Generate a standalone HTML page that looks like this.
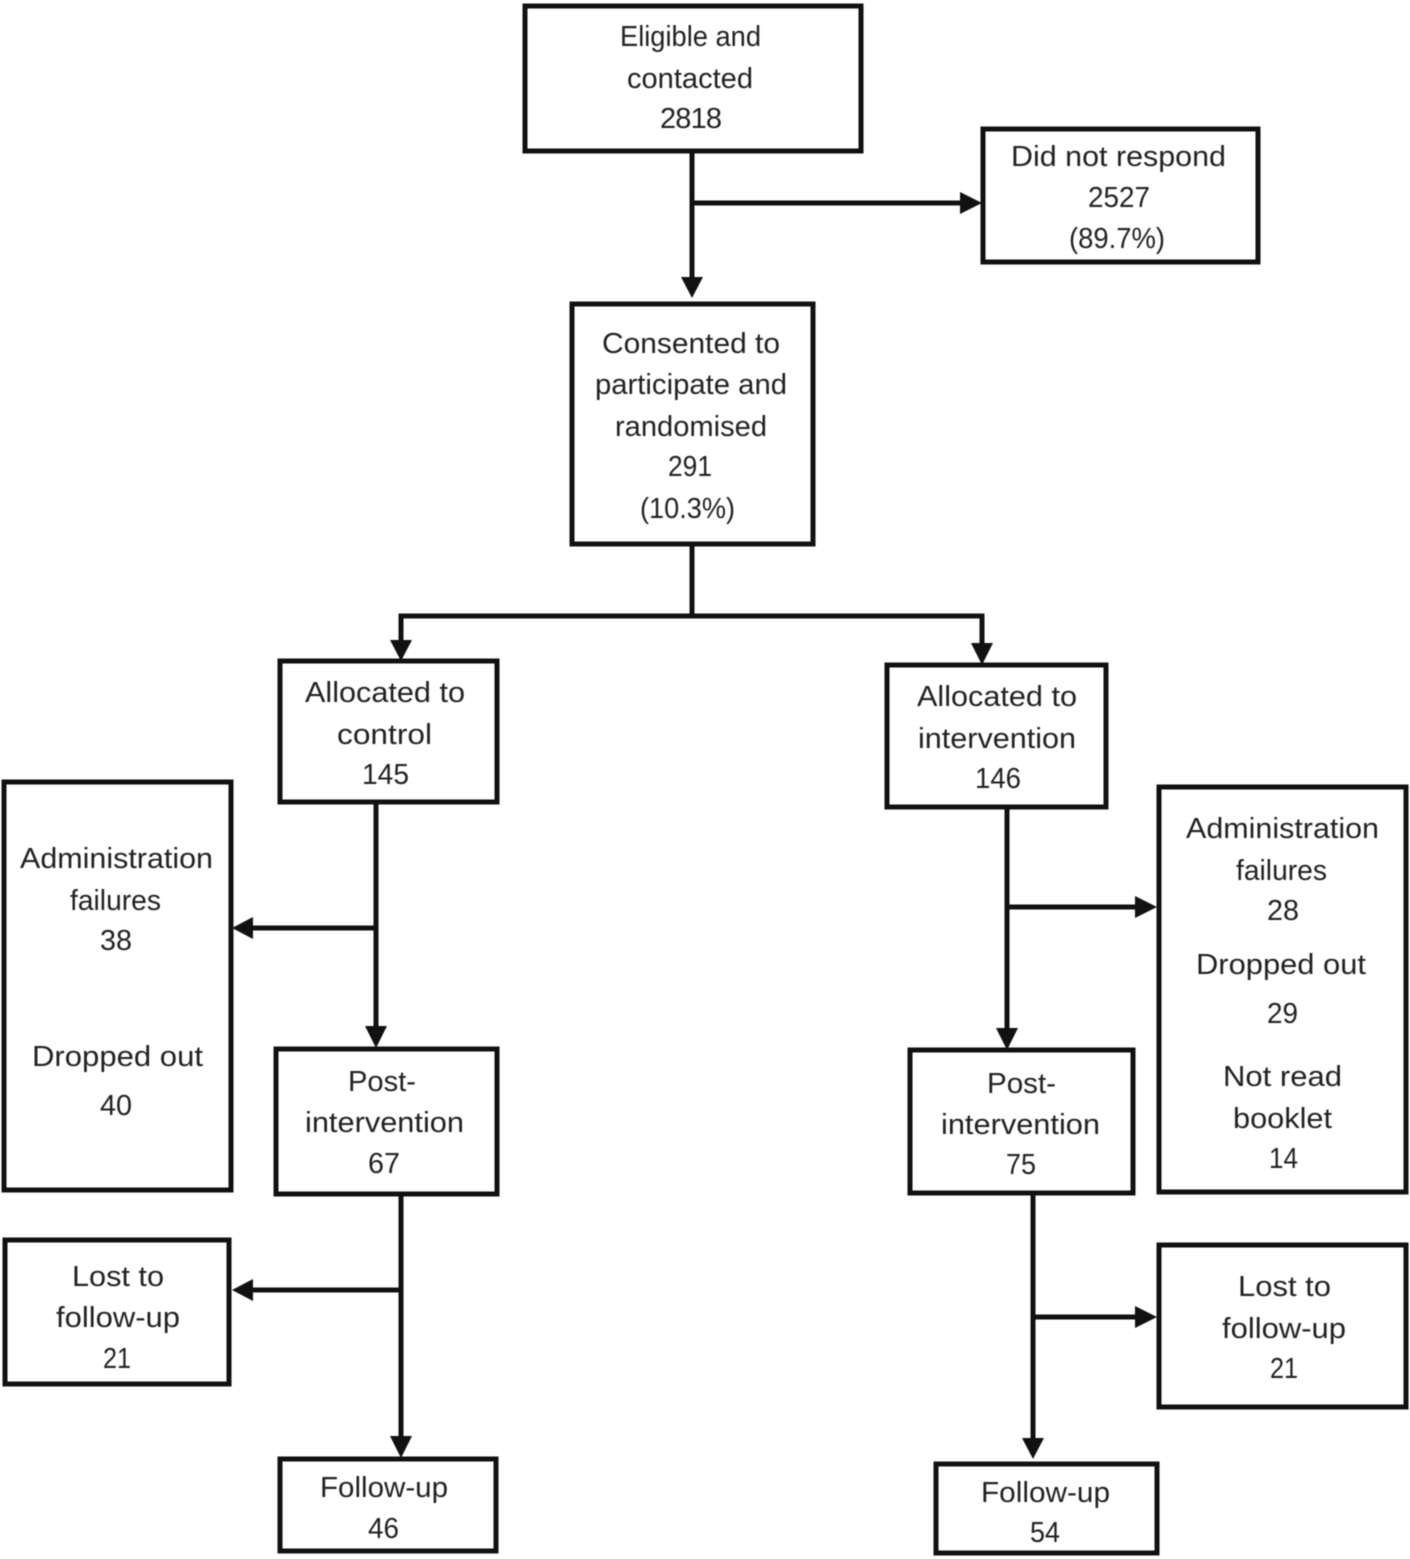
<!DOCTYPE html>
<html><head><meta charset="utf-8"><style>
html,body{margin:0;padding:0;background:#fff}
svg{display:block;filter:blur(.45px)}
text{font-family:"Liberation Sans",sans-serif;font-size:29px;fill:#222;text-anchor:middle}
rect{fill:#fff;stroke:#111;stroke-width:5}
path.l{fill:none;stroke:#111;stroke-width:5}
path.a{fill:#111;stroke:none}
</style></head><body>
<svg width="1410" height="1559" viewBox="0 0 1410 1559" xmlns="http://www.w3.org/2000/svg">
<rect x="525" y="6" width="336" height="145"/>
<rect x="983" y="129" width="275" height="133"/>
<rect x="572" y="304" width="241" height="240"/>
<rect x="280" y="661" width="217" height="141"/>
<rect x="887" y="665" width="219" height="142"/>
<rect x="4" y="782" width="227" height="408"/>
<rect x="1159" y="787" width="247" height="405"/>
<rect x="276" y="1049" width="221" height="145"/>
<rect x="910" y="1050" width="223" height="143"/>
<rect x="5" y="1240" width="224" height="144"/>
<rect x="1159" y="1245" width="247" height="162"/>
<rect x="280" y="1459" width="216" height="92"/>
<rect x="936" y="1464" width="221" height="89"/>

<path class="l" d="M692 151V280M692 203H962M692 544V616M401 642V616H982V645M376 802V1028M376 928H250M1007 807V1030M1007 907H1137M401 1194V1438M401 1290H250M1033 1193V1440M1033 1317H1137"/>
<path class="a" d="M681 277H703L692 298ZM960 192V214L982 203ZM390 640H412L401 661ZM971 643H993L982 665ZM365 1026H387L376 1048ZM253 917V939L232 928ZM996 1028H1018L1007 1050ZM1135 896V918L1157 907ZM390 1436H412L401 1458ZM253 1279V1301L232 1290ZM1022 1438H1044L1033 1459ZM1135 1306V1328L1157 1317Z"/>

<g lengthAdjust="spacingAndGlyphs">
<text x="690.5" y="46" textLength="141" lengthAdjust="spacingAndGlyphs">Eligible and</text><text x="690" y="88" textLength="126" lengthAdjust="spacingAndGlyphs">contacted</text><text x="691" y="128" textLength="62" lengthAdjust="spacing">2818</text>
<text x="1118.5" y="166" textLength="215" lengthAdjust="spacingAndGlyphs">Did not respond</text><text x="1119" y="207" textLength="62" lengthAdjust="spacingAndGlyphs">2527</text><text x="1117" y="248" textLength="96" lengthAdjust="spacingAndGlyphs">(89.7%)</text>
<text x="691" y="353" textLength="178" lengthAdjust="spacingAndGlyphs">Consented to</text><text x="691" y="394" textLength="192" lengthAdjust="spacingAndGlyphs">participate and</text><text x="691" y="436" textLength="152" lengthAdjust="spacingAndGlyphs">randomised</text><text x="690" y="476" textLength="44" lengthAdjust="spacingAndGlyphs">291</text><text x="687.5" y="518" textLength="95" lengthAdjust="spacingAndGlyphs">(10.3%)</text>
<text x="385" y="702" textLength="160" lengthAdjust="spacingAndGlyphs">Allocated to</text><text x="384.5" y="744" textLength="95" lengthAdjust="spacingAndGlyphs">control</text><text x="385.5" y="784" textLength="47" lengthAdjust="spacingAndGlyphs">145</text>
<text x="997" y="706" textLength="160" lengthAdjust="spacingAndGlyphs">Allocated to</text><text x="997" y="748" textLength="158" lengthAdjust="spacingAndGlyphs">intervention</text><text x="998" y="788" textLength="46" lengthAdjust="spacingAndGlyphs">146</text>
<text x="116.5" y="868" textLength="193" lengthAdjust="spacingAndGlyphs">Administration</text><text x="115.5" y="910" textLength="91" lengthAdjust="spacingAndGlyphs">failures</text><text x="116" y="950" textLength="32" lengthAdjust="spacingAndGlyphs">38</text><text x="117.5" y="1066" textLength="171" lengthAdjust="spacingAndGlyphs">Dropped out</text><text x="116" y="1115" textLength="32" lengthAdjust="spacingAndGlyphs">40</text>
<text x="1282.5" y="838" textLength="193" lengthAdjust="spacingAndGlyphs">Administration</text><text x="1281.5" y="880" textLength="91" lengthAdjust="spacingAndGlyphs">failures</text><text x="1283" y="920" textLength="32" lengthAdjust="spacingAndGlyphs">28</text><text x="1281" y="974" textLength="170" lengthAdjust="spacingAndGlyphs">Dropped out</text><text x="1282.5" y="1023" textLength="31" lengthAdjust="spacingAndGlyphs">29</text><text x="1282.5" y="1086" textLength="119" lengthAdjust="spacingAndGlyphs">Not read</text><text x="1282.5" y="1128" textLength="99" lengthAdjust="spacingAndGlyphs">booklet</text><text x="1283.5" y="1168" textLength="29" lengthAdjust="spacingAndGlyphs">14</text>
<text x="382" y="1091" textLength="68" lengthAdjust="spacingAndGlyphs">Post-</text><text x="384.5" y="1132" textLength="159" lengthAdjust="spacingAndGlyphs">intervention</text><text x="384" y="1173" textLength="32" lengthAdjust="spacingAndGlyphs">67</text>
<text x="1021.5" y="1093" textLength="69" lengthAdjust="spacingAndGlyphs">Post-</text><text x="1020.5" y="1134" textLength="159" lengthAdjust="spacingAndGlyphs">intervention</text><text x="1021" y="1174" textLength="30" lengthAdjust="spacingAndGlyphs">75</text>
<text x="118" y="1286" textLength="92" lengthAdjust="spacingAndGlyphs">Lost to</text><text x="118" y="1327" textLength="124" lengthAdjust="spacingAndGlyphs">follow-up</text><text x="117" y="1368" textLength="28" lengthAdjust="spacingAndGlyphs">21</text>
<text x="1284.5" y="1296" textLength="93" lengthAdjust="spacingAndGlyphs">Lost to</text><text x="1284" y="1338" textLength="124" lengthAdjust="spacingAndGlyphs">follow-up</text><text x="1284" y="1378" textLength="28" lengthAdjust="spacingAndGlyphs">21</text>
<text x="384" y="1497" textLength="128" lengthAdjust="spacingAndGlyphs">Follow-up</text><text x="383.5" y="1538" textLength="31" lengthAdjust="spacingAndGlyphs">46</text>
<text x="1045.5" y="1502" textLength="129" lengthAdjust="spacingAndGlyphs">Follow-up</text><text x="1045" y="1542" textLength="30" lengthAdjust="spacingAndGlyphs">54</text>
</g>
</svg>
</body></html>
